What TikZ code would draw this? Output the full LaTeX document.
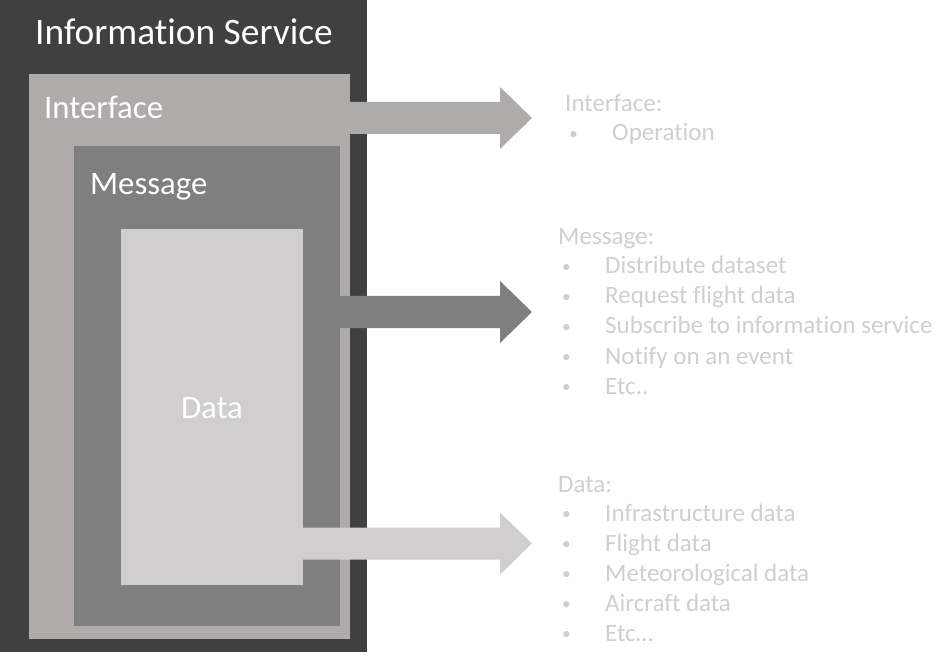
\documentclass[tikz,border=0pt]{standalone}
\usepackage{graphicx}
\usepackage{fontspec}
\setmainfont{Carlito}[Ligatures=NoCommon]
\definecolor{servicegray}{HTML}{404040}
\definecolor{ifacegray}{HTML}{AFABAB}
\definecolor{msggray}{HTML}{7F7F7F}
\definecolor{datagray}{HTML}{D0CECE}
\definecolor{listgray}{HTML}{D0CECE}
\newcommand\bul{\makebox[47pt][l]{\hspace{4pt}\raisebox{1.5pt}{\scalebox{0.7}{•}}}}
\begin{document}
\begin{tikzpicture}[x=1pt,y=-1pt,every node/.style={inner sep=0pt,text=white},
	boxlabel/.style={anchor=base west,font=\fontsize{32.8}{36}\selectfont},
	listline/.style={anchor=base west,text=listgray,font=\fontsize{25}{30}\selectfont}]
		\useasboundingbox(0,0)rectangle(951,663);
		\coordinate(S1)at(0,0);
		\coordinate(S2)at(367,652);
		\coordinate(I1)at(29,74);
		\coordinate(I2)at(350,639);
		\coordinate(M1)at(74,146);
		\coordinate(M2)at(340,626);
		\coordinate(D1)at(121,229);
		\coordinate(D2)at(303,585);
		%nested boxes
		\fill[servicegray](S1)rectangle(S2);
		\fill[ifacegray](I1)rectangle(I2);
		\fill[msggray](M1)rectangle(M2);
		\fill[datagray](D1)rectangle(D2);
		\node[boxlabel,font=\fontsize{37.4}{40}\selectfont](service)at(35,45){Information Service};
		\node[boxlabel](iface)at(44,119){Interface};
		\node[boxlabel](msg)at(90,195){Message};
		\node[font=\fontsize{32.8}{36}\selectfont](data)at(212,408){Data};
		%block arrows: start x / centre y / colour
		\foreach\x/\y/\c in{350/118/ifacegray,340/312/msggray,303/543.5/datagray}{
			\fill[\c](\x,\y-16)--(500,\y-16)--(500,\y-31)--(532,\y)--(500,\y+31)--(500,\y+16)--(\x,\y+16)--cycle;}
		%lists
		\node[listline](ifhead)at(565,112){Interface:};
		\node[listline](if1)at(565,141){\bul Operation};
		\node[listline](msghead)at(558,245){Message:};
		\foreach\t[count=\i]in{Distribute dataset,Request flight data,Subscribe to information service,Notify on an event,Etc..}{
			\node[listline](msg\i)at(558,244+30*\i){\bul\t};}
		\node[listline](datahead)at(558,492){Data:};
		\foreach\t[count=\i]in{Infrastructure data,Flight data,Meteorological data,Aircraft data,Etc…}{
			\node[listline](data\i)at(558,491+30*\i){\bul\t};}
	\end{tikzpicture}
\end{document}
